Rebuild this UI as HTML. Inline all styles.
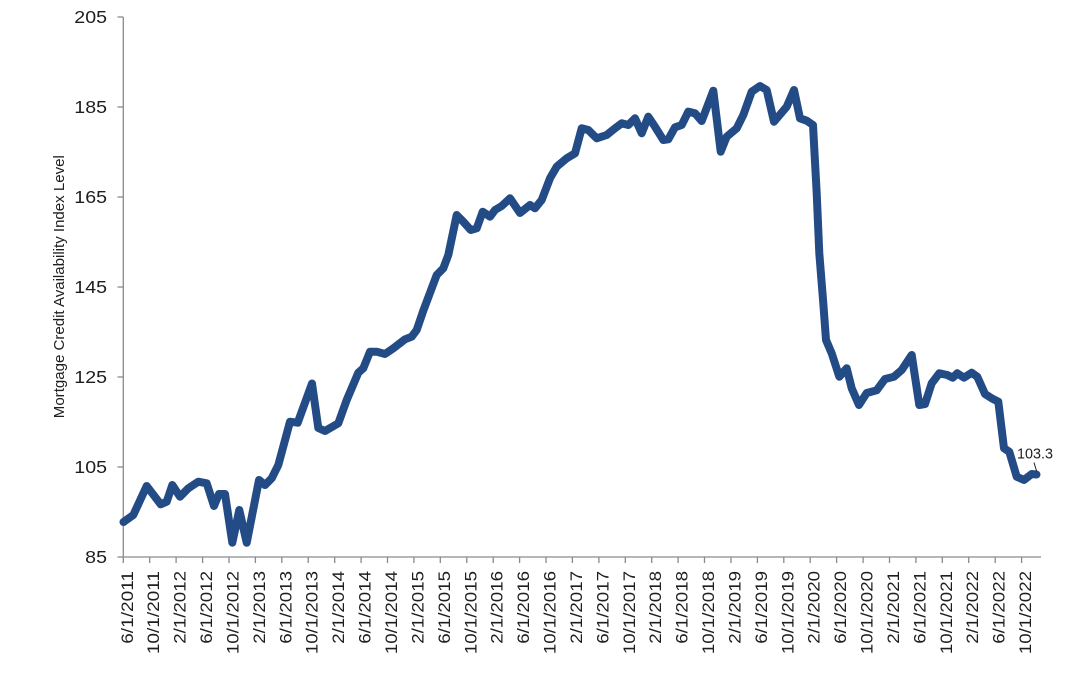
<!DOCTYPE html>
<html>
<head>
<meta charset="utf-8">
<style>
  html, body { margin:0; padding:0; background:#ffffff; }
  svg { display:block; }
  text { font-family: "Liberation Sans", Arial, sans-serif; fill:#1e1e1e; }
</style>
</head>
<body>
<svg width="1067" height="687" viewBox="0 0 1067 687" xmlns="http://www.w3.org/2000/svg">
  <rect x="0" y="0" width="1067" height="687" fill="#ffffff"/>

  <!-- axes -->
  <g stroke="#8a8a8a" stroke-width="1.3" fill="none">
    <line x1="123.3" y1="17" x2="123.3" y2="557"/>
    <line x1="123.3" y1="557" x2="1041" y2="557"/>
    <!-- y ticks -->
    <line x1="117.5" y1="17" x2="123.3" y2="17"/>
    <line x1="117.5" y1="107" x2="123.3" y2="107"/>
    <line x1="117.5" y1="197" x2="123.3" y2="197"/>
    <line x1="117.5" y1="287" x2="123.3" y2="287"/>
    <line x1="117.5" y1="377" x2="123.3" y2="377"/>
    <line x1="117.5" y1="467" x2="123.3" y2="467"/>
    <line x1="117.5" y1="557" x2="123.3" y2="557"/>
    <!-- x ticks -->
    <line x1="123.3" y1="557" x2="123.3" y2="563"/>
    <line x1="149.7" y1="557" x2="149.7" y2="563"/>
    <line x1="176.1" y1="557" x2="176.1" y2="563"/>
    <line x1="202.6" y1="557" x2="202.6" y2="563"/>
    <line x1="229.0" y1="557" x2="229.0" y2="563"/>
    <line x1="255.4" y1="557" x2="255.4" y2="563"/>
    <line x1="281.8" y1="557" x2="281.8" y2="563"/>
    <line x1="308.2" y1="557" x2="308.2" y2="563"/>
    <line x1="334.7" y1="557" x2="334.7" y2="563"/>
    <line x1="361.1" y1="557" x2="361.1" y2="563"/>
    <line x1="387.5" y1="557" x2="387.5" y2="563"/>
    <line x1="413.9" y1="557" x2="413.9" y2="563"/>
    <line x1="440.3" y1="557" x2="440.3" y2="563"/>
    <line x1="466.8" y1="557" x2="466.8" y2="563"/>
    <line x1="493.2" y1="557" x2="493.2" y2="563"/>
    <line x1="519.6" y1="557" x2="519.6" y2="563"/>
    <line x1="546.0" y1="557" x2="546.0" y2="563"/>
    <line x1="572.4" y1="557" x2="572.4" y2="563"/>
    <line x1="598.9" y1="557" x2="598.9" y2="563"/>
    <line x1="625.3" y1="557" x2="625.3" y2="563"/>
    <line x1="651.7" y1="557" x2="651.7" y2="563"/>
    <line x1="678.1" y1="557" x2="678.1" y2="563"/>
    <line x1="704.5" y1="557" x2="704.5" y2="563"/>
    <line x1="731.0" y1="557" x2="731.0" y2="563"/>
    <line x1="757.4" y1="557" x2="757.4" y2="563"/>
    <line x1="783.8" y1="557" x2="783.8" y2="563"/>
    <line x1="810.2" y1="557" x2="810.2" y2="563"/>
    <line x1="836.6" y1="557" x2="836.6" y2="563"/>
    <line x1="863.1" y1="557" x2="863.1" y2="563"/>
    <line x1="889.5" y1="557" x2="889.5" y2="563"/>
    <line x1="915.9" y1="557" x2="915.9" y2="563"/>
    <line x1="942.3" y1="557" x2="942.3" y2="563"/>
    <line x1="968.7" y1="557" x2="968.7" y2="563"/>
    <line x1="995.2" y1="557" x2="995.2" y2="563"/>
    <line x1="1021.6" y1="557" x2="1021.6" y2="563"/>
  </g>

  <!-- y labels -->
  <g font-size="17.5" text-anchor="end">
    <text x="107" y="23.2" textLength="32.7" lengthAdjust="spacingAndGlyphs">205</text>
    <text x="107" y="113.2" textLength="32.7" lengthAdjust="spacingAndGlyphs">185</text>
    <text x="107" y="203.2" textLength="32.7" lengthAdjust="spacingAndGlyphs">165</text>
    <text x="107" y="293.2" textLength="32.7" lengthAdjust="spacingAndGlyphs">145</text>
    <text x="107" y="383.2" textLength="32.7" lengthAdjust="spacingAndGlyphs">125</text>
    <text x="107" y="473.2" textLength="32.7" lengthAdjust="spacingAndGlyphs">105</text>
    <text x="107" y="563.2" textLength="21.8" lengthAdjust="spacingAndGlyphs">85</text>
  </g>

  <!-- y axis title -->
  <text transform="translate(64,286.7) rotate(-90)" font-size="14.5" text-anchor="middle" textLength="263" lengthAdjust="spacingAndGlyphs">Mortgage Credit Availability Index Level</text>

  <!-- x labels -->
  <g font-size="17" text-anchor="end">
    <text transform="translate(132.8,571) rotate(-90)" textLength="72.8" lengthAdjust="spacingAndGlyphs">6/1/2011</text>
    <text transform="translate(159.2,571) rotate(-90)" textLength="83.2" lengthAdjust="spacingAndGlyphs">10/1/2011</text>
    <text transform="translate(185.6,571) rotate(-90)" textLength="72.8" lengthAdjust="spacingAndGlyphs">2/1/2012</text>
    <text transform="translate(212.1,571) rotate(-90)" textLength="72.8" lengthAdjust="spacingAndGlyphs">6/1/2012</text>
    <text transform="translate(238.5,571) rotate(-90)" textLength="83.2" lengthAdjust="spacingAndGlyphs">10/1/2012</text>
    <text transform="translate(264.9,571) rotate(-90)" textLength="72.8" lengthAdjust="spacingAndGlyphs">2/1/2013</text>
    <text transform="translate(291.3,571) rotate(-90)" textLength="72.8" lengthAdjust="spacingAndGlyphs">6/1/2013</text>
    <text transform="translate(317.7,571) rotate(-90)" textLength="83.2" lengthAdjust="spacingAndGlyphs">10/1/2013</text>
    <text transform="translate(344.2,571) rotate(-90)" textLength="72.8" lengthAdjust="spacingAndGlyphs">2/1/2014</text>
    <text transform="translate(370.6,571) rotate(-90)" textLength="72.8" lengthAdjust="spacingAndGlyphs">6/1/2014</text>
    <text transform="translate(397.0,571) rotate(-90)" textLength="83.2" lengthAdjust="spacingAndGlyphs">10/1/2014</text>
    <text transform="translate(423.4,571) rotate(-90)" textLength="72.8" lengthAdjust="spacingAndGlyphs">2/1/2015</text>
    <text transform="translate(449.8,571) rotate(-90)" textLength="72.8" lengthAdjust="spacingAndGlyphs">6/1/2015</text>
    <text transform="translate(476.3,571) rotate(-90)" textLength="83.2" lengthAdjust="spacingAndGlyphs">10/1/2015</text>
    <text transform="translate(502.7,571) rotate(-90)" textLength="72.8" lengthAdjust="spacingAndGlyphs">2/1/2016</text>
    <text transform="translate(529.1,571) rotate(-90)" textLength="72.8" lengthAdjust="spacingAndGlyphs">6/1/2016</text>
    <text transform="translate(555.5,571) rotate(-90)" textLength="83.2" lengthAdjust="spacingAndGlyphs">10/1/2016</text>
    <text transform="translate(581.9,571) rotate(-90)" textLength="72.8" lengthAdjust="spacingAndGlyphs">2/1/2017</text>
    <text transform="translate(608.4,571) rotate(-90)" textLength="72.8" lengthAdjust="spacingAndGlyphs">6/1/2017</text>
    <text transform="translate(634.8,571) rotate(-90)" textLength="83.2" lengthAdjust="spacingAndGlyphs">10/1/2017</text>
    <text transform="translate(661.2,571) rotate(-90)" textLength="72.8" lengthAdjust="spacingAndGlyphs">2/1/2018</text>
    <text transform="translate(687.6,571) rotate(-90)" textLength="72.8" lengthAdjust="spacingAndGlyphs">6/1/2018</text>
    <text transform="translate(714.0,571) rotate(-90)" textLength="83.2" lengthAdjust="spacingAndGlyphs">10/1/2018</text>
    <text transform="translate(740.5,571) rotate(-90)" textLength="72.8" lengthAdjust="spacingAndGlyphs">2/1/2019</text>
    <text transform="translate(766.9,571) rotate(-90)" textLength="72.8" lengthAdjust="spacingAndGlyphs">6/1/2019</text>
    <text transform="translate(793.3,571) rotate(-90)" textLength="83.2" lengthAdjust="spacingAndGlyphs">10/1/2019</text>
    <text transform="translate(819.7,571) rotate(-90)" textLength="72.8" lengthAdjust="spacingAndGlyphs">2/1/2020</text>
    <text transform="translate(846.1,571) rotate(-90)" textLength="72.8" lengthAdjust="spacingAndGlyphs">6/1/2020</text>
    <text transform="translate(872.6,571) rotate(-90)" textLength="83.2" lengthAdjust="spacingAndGlyphs">10/1/2020</text>
    <text transform="translate(899.0,571) rotate(-90)" textLength="72.8" lengthAdjust="spacingAndGlyphs">2/1/2021</text>
    <text transform="translate(925.4,571) rotate(-90)" textLength="72.8" lengthAdjust="spacingAndGlyphs">6/1/2021</text>
    <text transform="translate(951.8,571) rotate(-90)" textLength="83.2" lengthAdjust="spacingAndGlyphs">10/1/2021</text>
    <text transform="translate(978.2,571) rotate(-90)" textLength="72.8" lengthAdjust="spacingAndGlyphs">2/1/2022</text>
    <text transform="translate(1004.7,571) rotate(-90)" textLength="72.8" lengthAdjust="spacingAndGlyphs">6/1/2022</text>
    <text transform="translate(1031.1,571) rotate(-90)" textLength="83.2" lengthAdjust="spacingAndGlyphs">10/1/2022</text>
  </g>

  <!-- series -->
  <polyline fill="none" stroke="#234C86" stroke-width="8" stroke-linejoin="round" stroke-linecap="round"
    points="123.5,522 133.3,515 146.7,486 160.7,504.3 166.7,501.7 172.3,485 180,496.7 188.3,488.3 198.3,481.7 206.7,483.3 214,506 219,494 225,494 232.3,542.7 239.3,510 246.7,542.7 259,480 265,485 271.7,478.3 278.3,465 290,421.7 297.7,422.7 312,383.5 318.3,428 325,431 338.3,423.3 346.7,400 358.3,372.7 363.3,368.3 370,351.7 376.7,351.7 385,354 393.3,348.3 405,339.3 411.7,336.7 416.7,330 423.3,310.7 436.7,275 443.3,268.3 448.3,255 456.7,215 463.3,221.7 470.7,230 476.7,228.3 482.7,211.7 490,216.7 495,210 501.7,206 510,198.3 520,213 530,205 535,208.3 541.7,200 550,178.3 556.7,166.7 566.7,158.3 575,153.3 581.7,128.3 588.3,130 596.7,138.3 606.7,135 615,128.3 621.7,123.3 628.3,125 635,118.3 641.7,133.3 648.3,116.7 655,126.7 663.3,140 668.3,139.3 675,127.3 681.7,125 688.3,111.7 695,113.3 701.7,121 713.3,90.7 720.7,151.7 726.7,136.7 736.7,128.3 743.3,115 751.7,91.7 760,86 766.7,90 774,121.7 786.7,106.7 794,90 800,118.3 806.7,120.7 813,125 816.7,193.3 819.3,253.3 823.3,303.3 826,340 831.7,353.3 839.3,376.7 846.7,368.3 851.7,388.3 859,405 866.7,393 876.7,390.3 885,379 894,376.7 901.7,370 911.7,355 919.3,405 925,404 931.7,383.3 939.3,373.3 947.3,375 952.7,377.7 957.3,373.3 964,377.7 971.7,372.7 977.3,376.7 985,394 991.7,398.3 998.3,401.7 1004,448.3 1009.3,451.7 1016.7,476.7 1024,480 1031.7,474 1036.5,474.5"/>

  <!-- data label -->
  <line x1="1034" y1="462.5" x2="1036.7" y2="471.5" stroke="#222" stroke-width="1"/>
  <text x="1035" y="458.5" font-size="14.5" text-anchor="middle" textLength="36" lengthAdjust="spacingAndGlyphs">103.3</text>
</svg>
</body>
</html>
